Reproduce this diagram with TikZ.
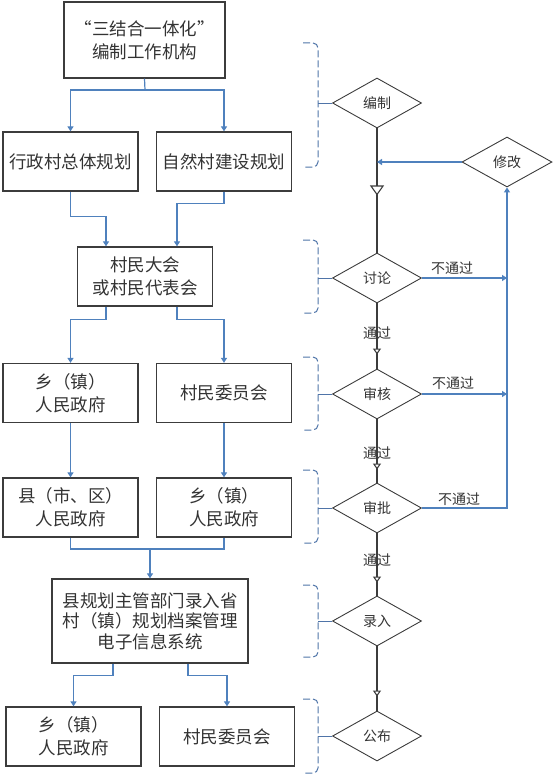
\documentclass[tikz,border=0pt]{standalone}
\usepackage{fontspec}
\newfontfamily\cjk{Noto Sans CJK SC}
\usetikzlibrary{shapes.geometric,arrows.meta,decorations.markings}
\definecolor{boxline}{HTML}{3C3C3C}
\definecolor{connc}{HTML}{4F81BD}
\definecolor{txt}{HTML}{333333}
\definecolor{brkc}{HTML}{4F74A8}
\begin{document}
\begin{tikzpicture}[x=1pt,y=-1pt,
  box/.style={draw=boxline, line width=1.3pt, inner sep=0pt, align=center,
    font=\cjk\fontsize{17.5}{23}\selectfont, text=txt,
    minimum width=135pt, minimum height=59pt},
  dia/.style={diamond, draw=boxline, line width=0.9pt, minimum width=89pt,
    minimum height=50pt, inner sep=0pt, font=\cjk\fontsize{14}{16}\selectfont, text=txt},
  arr/.style={draw=connc, line width=1.2pt, -{Triangle[length=5pt,width=6pt]}},
  cline/.style={draw=connc, line width=1.2pt},
  flow/.style={draw=boxline, line width=1.1pt},
  lbl/.style={font=\cjk\fontsize{14}{16}\selectfont, text=txt, inner sep=0pt},
  brk/.style={draw=brkc, line width=1pt, dash pattern=on 7pt off 3pt, rounded corners=5pt},
  brktick/.style={draw=brkc, line width=1pt},
  midtip/.style={postaction={decorate}, decoration={markings,
    mark=at position #1 with {\arrow{Triangle[length=6pt,width=8pt,fill=white]}}}},
  bigtip/.style={postaction={decorate}, decoration={markings,
    mark=at position #1 with {\arrow{Triangle[length=10pt,width=14pt,fill=white]}}}}
]
\useasboundingbox (0,0) rectangle (555,776);

% left column boxes
\node[box, minimum width=161pt, minimum height=76pt] (b1) at (144.5,40) {“三结合一体化”\\编制工作机构};
\node[box] (b2) at (70.5,161.5) {行政村总体规划};
\node[box] (b3) at (224,161.5) {自然村建设规划};
\node[box] (b4) at (145,276.5) {村民大会\\或村民代表会};
\node[box] (b5) at (70.5,393) {乡（镇）\\人民政府};
\node[box] (b6) at (224,393) {村民委员会};
\node[box] (b7) at (70.5,507.5) {县（市、区）\\人民政府};
\node[box] (b8) at (224,507.5) {乡（镇）\\人民政府};
\node[box, minimum width=196pt, minimum height=84pt, font=\cjk\fontsize{17.5}{20.5}\selectfont] (b9) at (150,621) {县规划主管部门录入省\\村（镇）规划档案管理\\电子信息系统};
\node[box] (b10) at (73.5,736.5) {乡（镇）\\人民政府};
\node[box] (b11) at (227,736.5) {村民委员会};

% left connectors
\coordinate (j1) at (145,90);
\draw[cline] (b1.south) -- (j1);
\draw[arr] (j1) -| (b2.north);
\draw[arr] (j1) -| (b3.north);
\draw[arr] (b2.south) -- ++(0,25) -| ([xshift=-39pt]b4.north);
\draw[arr] (b3.south) -- ++(0,12) -| ([xshift=32pt]b4.north);
\draw[arr] ([xshift=-39pt]b4.south) -- ++(0,13) -| (b5.north);
\draw[arr] ([xshift=32pt]b4.south) -- ++(0,13) -| (b6.north);
\draw[arr] (b5.south) -- (b7.north);
\draw[arr] (b6.south) -- (b8.north);
\coordinate (j2) at (150,549);
\draw[cline] (b7.south) |- (j2) -| (b8.south);
\draw[arr] (j2) -- (b9.north);
\draw[arr] ([xshift=-37pt]b9.south) -- ++(0,12) -| (b10.north);
\draw[arr] ([xshift=38pt]b9.south) -- ++(0,12) -| (b11.north);

% right column diamonds
\node[dia] (d1) at (377,103) {编制};
\node[dia] (d2) at (377,278) {讨论};
\node[dia] (d3) at (377,394) {审核};
\node[dia] (d4) at (377,508) {审批};
\node[dia] (d5) at (377,621) {录入};
\node[dia] (d6) at (377,736) {公布};
\node[dia, minimum width=90pt] (dx) at (507,162) {修改};

% main flow
\draw[flow, bigtip=67pt] (d1.south) -- (d2.north);
\draw[flow, midtip=-14pt] (d2.south) -- (d3.north);
\draw[flow, midtip=-13pt] (d3.south) -- (d4.north);
\draw[flow, midtip=-13pt] (d4.south) -- (d5.north);
\draw[flow, midtip=-14pt] (d5.south) -- (d6.north);
\node[lbl] (p1) at (377,333) {通过};
\node[lbl] (p2) at (377,453) {通过};
\node[lbl] (p3) at (377,560) {通过};

% rejection loop
\draw[arr] (dx.west) -- (dx.west -| d1.south);
\draw[arr] (d2.east) -- (d2.east -| dx.south);
\draw[arr] (d3.east) -- (d3.east -| dx.south);
\draw[arr] (d4.east) -| (dx.south);
\node[lbl] (n1) at (452,268) {不通过};
\node[lbl] (n2) at (453,383) {不通过};
\node[lbl] (n3) at (459,499) {不通过};

% brackets
\draw[brk] (303,43) -- (318,43) -- (318,167) -- (303,167);
\draw[brktick] (d1.west) -- (d1.west -| 318,0);
\draw[brk] (303,240) -- (318,240) -- (318,313) -- (303,313);
\draw[brktick] (d2.west) -- (d2.west -| 318,0);
\draw[brk] (303,357) -- (318,357) -- (318,430) -- (303,430);
\draw[brktick] (d3.west) -- (d3.west -| 318,0);
\draw[brk] (303,470) -- (318,470) -- (318,543) -- (303,543);
\draw[brktick] (d4.west) -- (d4.west -| 318,0);
\draw[brk] (303,585) -- (318,585) -- (318,657) -- (303,657);
\draw[brktick] (d5.west) -- (d5.west -| 318,0);
\draw[brk] (303,699) -- (318,699) -- (318,773) -- (303,773);
\draw[brktick] (d6.west) -- (d6.west -| 318,0);
\end{tikzpicture}
\end{document}
